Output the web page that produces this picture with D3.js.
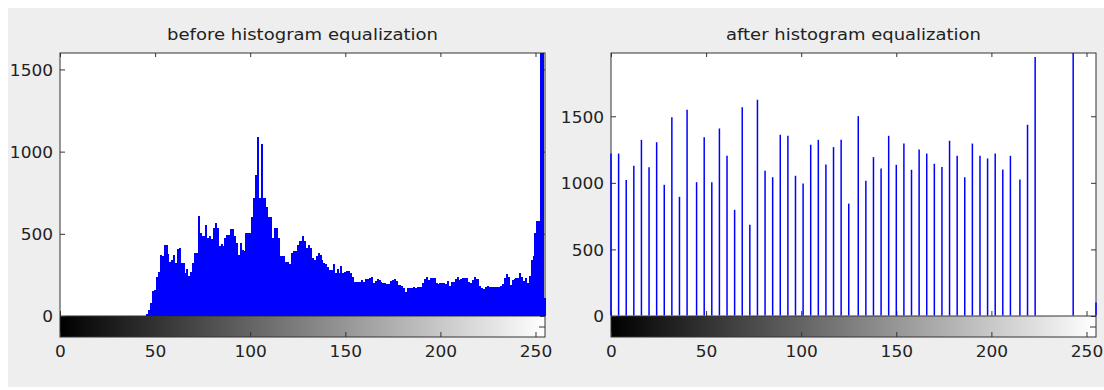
<!DOCTYPE html>
<meta charset="utf-8">
<title>histogram equalization</title>
<style>
    body { margin: 0; background: #fff; }
    text { font-family: "DejaVu Sans", sans-serif; fill: #222; }
    .tick line { stroke: #333; }
</style>
<script src="https://d3js.org/d3.v7.js"></script>
<body>
<script>
    // counts of the original image, bins 46..255 (bins 0..45 are empty)
    const beforeFirstBin = 46;
    const beforeCounts = [
        15, 35, 80, 150, 160, 240, 265, 372, 362, 433,
        430, 378, 327, 340, 372, 325, 408, 416, 325, 325,
        260, 285, 244, 270, 325, 386, 386, 606, 504, 484,
        484, 553, 474, 484, 467, 534, 565, 534, 423, 439,
        423, 474, 494, 494, 528, 528, 488, 443, 372, 443,
        402, 396, 504, 504, 504, 600, 720, 860, 1090, 720,
        1045, 717, 717, 662, 604, 604, 474, 534, 534, 474,
        362, 362, 362, 331, 331, 317, 382, 398, 398, 433,
        459, 459, 484, 459, 416, 433, 416, 350, 340, 362,
        382, 372, 340, 325, 315, 300, 280, 280, 317, 260,
        285, 260, 305, 264, 270, 276, 276, 264, 240, 209,
        205, 209, 209, 219, 209, 223, 223, 234, 240, 203,
        210, 223, 219, 209, 203, 200, 195, 195, 215, 219,
        223, 210, 189, 189, 183, 169, 149, 169, 169, 169,
        179, 169, 175, 179, 179, 203, 223, 236, 219, 230,
        230, 230, 199, 195, 199, 199, 199, 195, 215, 183,
        209, 209, 223, 236, 219, 223, 230, 230, 230, 209,
        199, 219, 236, 223, 223, 183, 169, 163, 179, 183,
        175, 175, 179, 179, 179, 179, 183, 195, 230, 254,
        236, 189, 219, 226, 230, 230, 260, 240, 215, 230,
        203, 244, 341, 366, 504, 575, 575, 2000, 1800, 108
    ];

    // the equalized image only uses these gray levels
    const afterLevels = [
        0, 4, 8, 12, 16, 20, 24, 28, 32, 36,
        40, 45, 49, 53, 57, 61, 65, 69, 73, 77,
        81, 85, 89, 93, 97, 101, 105, 109, 113, 117,
        121, 125, 130, 134, 138, 142, 146, 150, 154, 158,
        162, 166, 170, 174, 178, 182, 186, 190, 194, 198,
        202, 206, 210, 215, 219, 223, 243, 255
    ];
    const afterCounts = [
        1220, 1220, 1022, 1128, 1323, 1117, 1305, 985, 1493, 895,
        1549, 1005, 1343, 1005, 1408, 1203, 797, 1568, 686, 1624,
        1090, 1042, 1361, 1353, 1053, 995, 1286, 1323, 1138, 1268,
        1323, 844, 1501, 1015, 1193, 1108, 1353, 1135, 1295, 1098,
        1250, 1220, 1143, 1118, 1316, 1203, 1042, 1295, 1203, 1183,
        1220, 1100, 1203, 1025, 1436, 1945, 2600, 102
    ];

    const xTicks = [0, 50, 100, 150, 200, 250];
    const yTicks = [0, 500, 1000, 1500];

    const width = 1104, height = 390;
    const plotTop = 53, zeroY = 316, barBottom = 337;

    const svg = d3.select("body")
        .append("svg")
        .attr("width", width)
        .attr("height", height);

    // figure background
    svg.append("rect")
        .attr("x", 8).attr("y", 8)
        .attr("width", width - 8).attr("height", 379)
        .attr("fill", "#eeeeee");

    const defs = svg.append("defs");
    const grad = defs.append("linearGradient")
        .attr("id", "grayRamp")
        .attr("x1", "0%").attr("x2", "100%").attr("y1", "0%").attr("y2", "0%");
    grad.append("stop").attr("offset", "0%").attr("stop-color", "#000");
    grad.append("stop").attr("offset", "100%").attr("stop-color", "#fff");

    function drawPanel(id, left, right, yMax, title, titleLen, bins, counts, stemWidth, rendering) {
        const x = d3.scaleLinear().domain([0, 255]).range([left, right]);
        const y = d3.scaleLinear().domain([0, yMax]).range([zeroY, plotTop]);

        const g = svg.append("g");

        g.append("rect")
            .attr("x", left).attr("y", plotTop)
            .attr("width", right - left).attr("height", zeroY - plotTop)
            .attr("fill", "#fff");

        defs.append("clipPath").attr("id", "clip" + id)
            .append("rect")
            .attr("x", left - 1).attr("y", plotTop)
            .attr("width", right - left + 2).attr("height", zeroY - plotTop);

        // gray colorbar
        g.append("rect")
            .attr("x", left).attr("y", zeroY)
            .attr("width", right - left).attr("height", barBottom - zeroY)
            .attr("fill", "url(#grayRamp)");

        // axes, ticks pointing inward
        const fmt = d3.format("d");
        const xb = g.append("g")
            .attr("transform", `translate(0,${barBottom})`)
            .call(d3.axisBottom(x).tickValues(xTicks).tickFormat(fmt).tickSizeInner(-5).tickSizeOuter(0).tickPadding(8.5));
        const xz = g.append("g")
            .attr("transform", `translate(0,${zeroY})`)
            .call(d3.axisBottom(x).tickValues(xTicks).tickSizeInner(-5).tickSizeOuter(0).tickFormat(""));
        const xt = g.append("g")
            .attr("transform", `translate(0,${plotTop})`)
            .call(d3.axisTop(x).tickValues(xTicks).tickSizeInner(-4).tickSizeOuter(0).tickFormat(""));
        const yl = g.append("g")
            .attr("transform", `translate(${left},0)`)
            .call(d3.axisLeft(y).tickValues(yTicks).tickFormat(fmt).tickSizeInner(-5).tickSizeOuter(0).tickPadding(7));
        const yr = g.append("g")
            .attr("transform", `translate(${right},0)`)
            .call(d3.axisRight(y).tickValues(yTicks).tickSizeInner(-5).tickSizeOuter(0).tickFormat(""));

        [xb, xz, xt, yl, yr].forEach(a => a.select(".domain").remove());
        g.selectAll(".tick text")
            .style("font-size", "16px")
            .style("font-family", "DejaVu Sans, sans-serif")
            .attr("fill", "#222");
        yl.selectAll(".tick text").attr("dy", "0.36em");

        // colorbar side tick
        g.append("line")
            .attr("x1", right - 6).attr("x2", right)
            .attr("y1", (zeroY + barBottom) / 2 + 0.5).attr("y2", (zeroY + barBottom) / 2 + 0.5)
            .attr("stroke", "#333");

        // box and colorbar separator
        g.append("rect")
            .attr("x", left).attr("y", plotTop)
            .attr("width", right - left).attr("height", barBottom - plotTop)
            .attr("fill", "none")
            .attr("stroke", "#333");
        g.append("line")
            .attr("x1", left).attr("x2", right)
            .attr("y1", zeroY).attr("y2", zeroY)
            .attr("stroke", "#333");

        // stems, drawn over the box like the original
        g.append("g")
            .attr("clip-path", `url(#clip${id})`)
            .selectAll("line")
            .data(bins.map((b, i) => [b, counts[i]]))
            .join("line")
            .attr("x1", d => x(d[0])).attr("x2", d => x(d[0]))
            .attr("y1", y(0) - 0.5).attr("y2", d => y(d[1]))
            .attr("stroke", "#0000ff")
            .attr("stroke-width", stemWidth)
            .attr("shape-rendering", rendering);

        g.append("text")
            .attr("x", (left + right) / 2)
            .attr("y", 40)
            .attr("text-anchor", "middle")
            .attr("textLength", titleLen)
            .attr("lengthAdjust", "spacingAndGlyphs")
            .style("font-size", "15px")
            .text(title);
    }

    const beforeBins = beforeCounts.map((c, i) => beforeFirstBin + i);

    drawPanel("L", 60, 545, 1600, "before histogram equalization", 271,
        beforeBins, beforeCounts, 2, "crispEdges");
    drawPanel("R", 611, 1096, 1975, "after histogram equalization", 255,
        afterLevels, afterCounts, 1.5, "auto");

    // stretch tick labels a little to match the wide screen font
    svg.selectAll(".tick text").each(function () {
        const len = this.getComputedTextLength();
        if (len > 0) {
            d3.select(this)
                .attr("textLength", len * 1.06)
                .attr("lengthAdjust", "spacingAndGlyphs");
        }
    });
</script>
</body>
